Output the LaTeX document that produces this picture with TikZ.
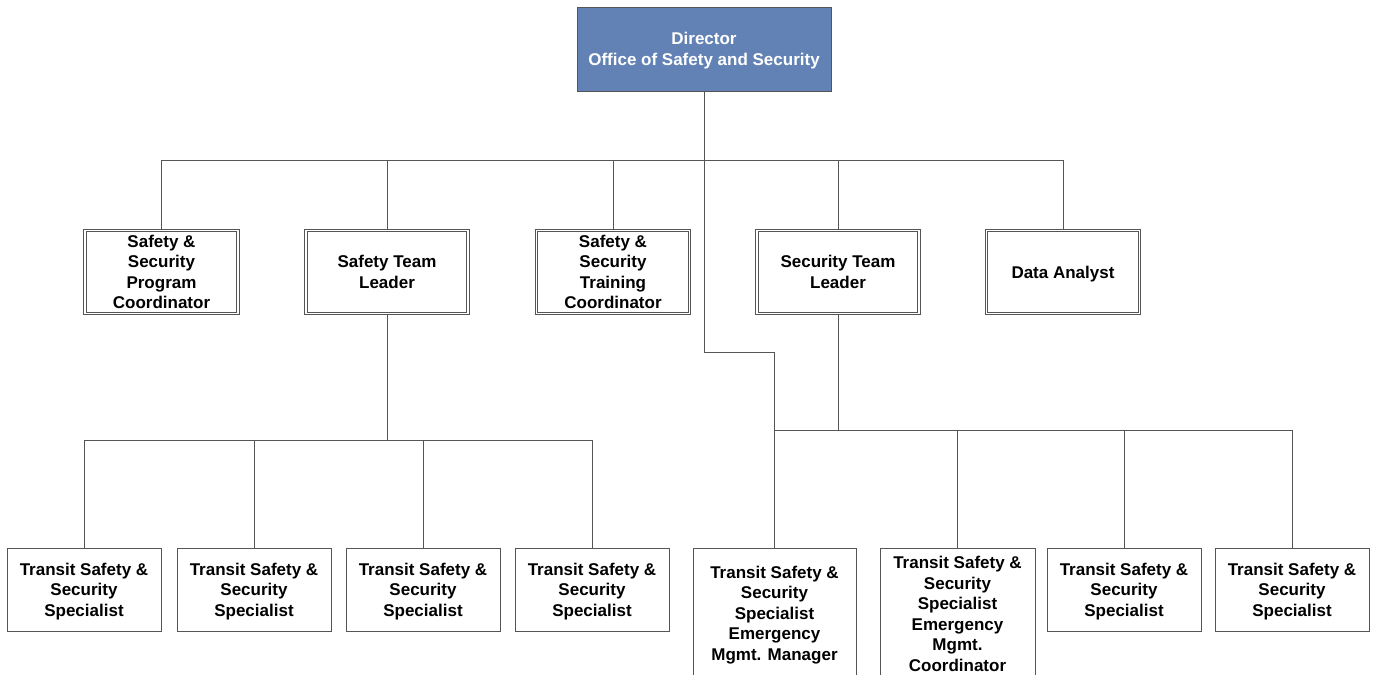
\documentclass[tikz,border=0pt]{standalone}
\usepackage{fontspec}
\setmainfont{Liberation Sans}
\definecolor{linegray}{RGB}{85,85,85}
\definecolor{dirblue}{RGB}{98,130,181}
\tikzset{
  box/.style={draw=linegray, line width=0.9pt, fill=white, align=center, inner sep=0pt, minimum height=83pt, minimum width=154pt, text depth=-8pt},
  dbox/.style={draw=linegray, double=white, double distance=1.8pt, line width=0.7pt, align=center, inner sep=0pt, minimum height=83pt, minimum width=153pt, text depth=-4pt},
  dirbox/.style={draw=linegray, line width=0.9pt, fill=dirblue, text=white, align=center, inner sep=0pt, minimum width=254pt, minimum height=84pt, text depth=-6.5pt},
  conn/.style={draw=linegray, line width=0.9pt}
}
\begin{document}
\begin{tikzpicture}[x=1pt,y=-1pt, font=\fontsize{17}{20.5}\selectfont\bfseries]
\useasboundingbox (0,0) rectangle (1377,675);
\coordinate (topbus) at (0,160);
\coordinate (dirbend) at (0,352);
\coordinate (safbus) at (0,440);
\coordinate (secbus) at (0,430);

\node[dirbox] (dir) at (704,49) {Director\\Office of Safety and Security};

\node[dbox] (c1) at (161.5,272) {Safety \&\\Security\\Program\\Coordinator};
\node[dbox, minimum width=162pt, text depth=-5.5pt] (c2) at (387,272) {Safety Team\\Leader};
\node[dbox] (c3) at (613,272) {Safety \&\\Security\\Training\\Coordinator};
\node[dbox, minimum width=162pt, text depth=-5.5pt] (c4) at (838,272) {Security Team\\Leader};
\node[dbox, text depth=-0.4pt] (c5) at (1063,272) {Data Analyst};

\node[box] (b1) at (84,589.5) {Transit Safety \&\\Security\\Specialist};
\node[box] (b2) at (254,589.5) {Transit Safety \&\\Security\\Specialist};
\node[box] (b3) at (423,589.5) {Transit Safety \&\\Security\\Specialist};
\node[box] (b4) at (592,589.5) {Transit Safety \&\\Security\\Specialist};
\node[box, minimum width=163pt, minimum height=132pt, text depth=1.6pt] (b5) at (774.5,614) {Transit Safety \&\\Security\\Specialist\\Emergency\\Mgmt. Manager};
\node[box, minimum width=155pt, minimum height=132pt, text depth=0pt] (b6) at (957.5,614) {Transit Safety \&\\Security\\Specialist\\Emergency\\Mgmt.\\Coordinator};
\node[box] (b7) at (1124,589.5) {Transit Safety \&\\Security\\Specialist};
\node[box] (b8) at (1292,589.5) {Transit Safety \&\\Security\\Specialist};

% director to second row
\foreach \c in {c1,c2,c3,c4,c5}
  \draw[conn] (dir.south) -- (dir.south |- topbus) -| (\c.north);
% director to emergency manager
\draw[conn] (dir.south) -- (dir.south |- dirbend) -| (b5.north);
% safety team
\foreach \b in {b1,b2,b3,b4}
  \draw[conn] (c2.south) -- (c2.south |- safbus) -| (\b.north);
% security team
\foreach \b in {b5,b6,b7,b8}
  \draw[conn] (c4.south) -- (c4.south |- secbus) -| (\b.north);
\end{tikzpicture}
\end{document}
